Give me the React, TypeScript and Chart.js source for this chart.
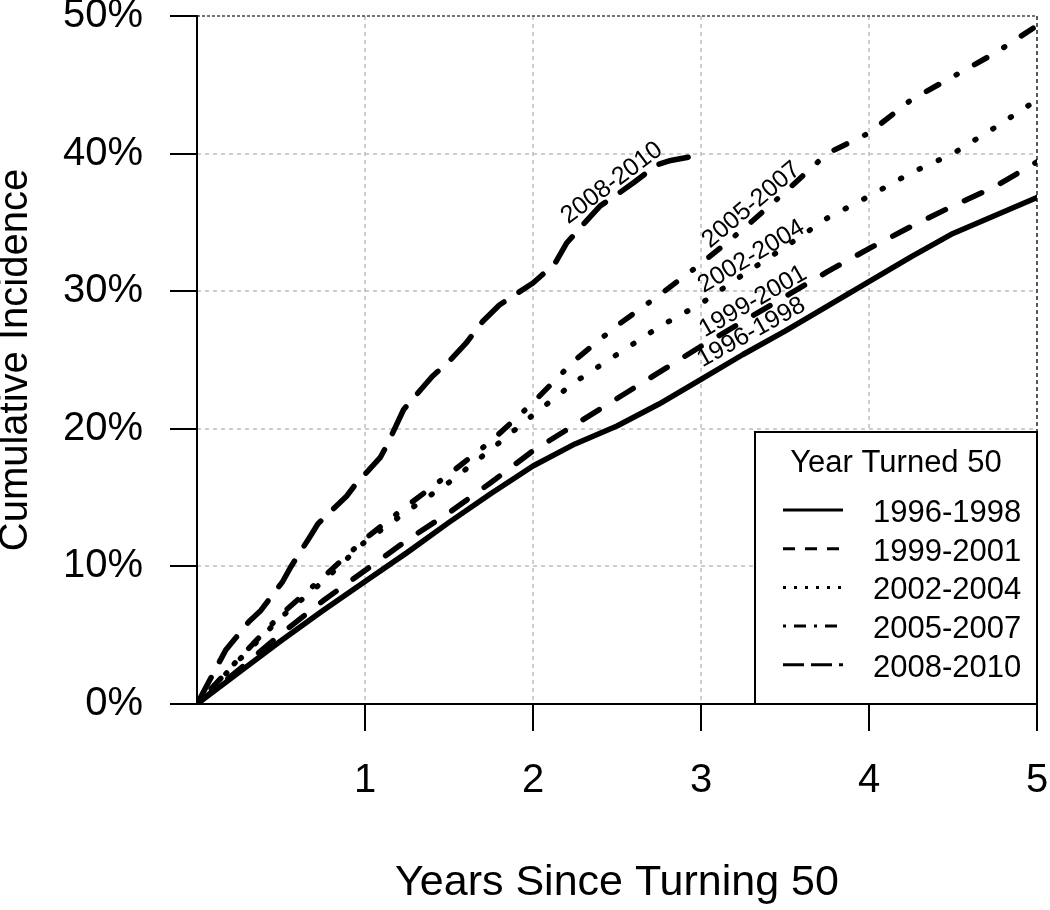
import { useEffect, useRef } from "react";
import { Chart, registerables } from "chart.js";

Chart.register(...registerables);

// ---------- data (cumulative incidence, %) ----------
const years = [0, 0.25, 0.5, 0.75, 1, 1.25, 1.5, 1.75, 2, 2.25, 2.5, 2.75, 3, 3.25, 3.5, 3.75, 4, 4.25, 4.5, 4.75, 5];
const inc1996 = [0, 2.3, 4.6, 6.8, 8.9, 11.0, 13.2, 15.3, 17.3, 18.9, 20.2, 21.8, 23.6, 25.4, 27.1, 28.9, 30.7, 32.5, 34.2, 35.5, 36.8];
const inc1999 = [0, 2.5, 5.1, 7.5, 9.7, 11.9, 13.9, 16.1, 18.4, 20.3, 22.2, 24.1, 26.0, 27.8, 29.6, 31.4, 33.1, 34.7, 36.2, 37.6, 39.4];
const inc2002 = [0, 3.2, 6.3, 8.9, 11.8, 14.0, 16.1, 18.5, 21.0, 23.4, 25.4, 27.4, 29.1, 31.2, 33.2, 35.3, 36.9, 38.6, 40.0, 41.9, 43.9];
const inc2005 = [0, 3.3, 6.5, 9.2, 12.0, 14.4, 16.7, 19.1, 21.9, 25.0, 27.5, 29.7, 32.0, 34.5, 37.2, 40.0, 41.5, 43.9, 45.6, 47.3, 49.3];
const years2008 = [0, 0.17, 0.31, 0.38, 0.51, 0.56, 0.68, 0.72, 0.89, 0.94, 1.09, 1.13, 1.23, 1.4, 1.5, 1.6, 1.7, 1.8, 1.9, 2.0, 2.13, 2.2, 2.31, 2.4, 2.52, 2.6, 2.74, 2.82, 2.95, 3.0];
const inc2008 = [0, 3.9, 6.0, 6.8, 8.9, 10.0, 12.3, 13.1, 15.1, 15.9, 17.9, 18.8, 21.4, 23.8, 24.9, 26.2, 27.8, 29.0, 29.8, 30.6, 32.0, 33.5, 35.0, 36.2, 37.2, 37.9, 39.2, 39.5, 39.8, 40.3];

const cohortNames = ["1996-1998", "1999-2001", "2002-2004", "2005-2007", "2008-2010"];
const yTicks = [0, 10, 20, 30, 40, 50];
const xTicks = [1, 2, 3, 4, 5];

// ---------- styles ----------
const FONT = "'Liberation Sans', Arial, Helvetica, sans-serif";
const plotDash: number[][] = [[], [19, 21], [1, 20], [1, 20, 14, 20], [30, 18]];
const legendDash: number[][] = [[], [12, 10], [3, 8], [3, 8, 12, 8], [21, 7]];

// in-plot labels (placed in data units)
const lineLabels = [
  { text: "2008-2010", x: 2.47, y: 37.86, angle: -37 },
  { text: "2005-2007", x: 3.3, y: 36.26, angle: -40 },
  { text: "2002-2004", x: 3.3, y: 32.52, angle: -31 },
  { text: "1999-2001", x: 3.31, y: 29.25, angle: -30 },
  { text: "1996-1998", x: 3.3, y: 27.0, angle: -29 },
];

const seriesX = [years, years, years, years, years2008];
const seriesY = [inc1996, inc1999, inc2002, inc2005, inc2008];

const gridPlugin = {
  id: "customGrid",
  beforeDatasetsDraw(chart: any) {
    const { ctx, chartArea: a, scales } = chart;
    const xs = scales.x, ys = scales.y;
    ctx.save();
    ctx.strokeStyle = "#bdbdbd";
    ctx.lineWidth = 1.5;
    ctx.setLineDash([4, 4]);
    [1, 2, 3, 4].forEach((v) => {
      const p = Math.round(xs.getPixelForValue(v));
      ctx.beginPath(); ctx.moveTo(p, a.top); ctx.lineTo(p, a.bottom); ctx.stroke();
    });
    [10, 20, 30, 40].forEach((v) => {
      const p = Math.round(ys.getPixelForValue(v));
      ctx.beginPath(); ctx.moveTo(a.left, p); ctx.lineTo(a.right, p); ctx.stroke();
    });
    // top and right frame
    ctx.strokeStyle = "#444";
    ctx.lineWidth = 1.5;
    ctx.setLineDash([3, 2]);
    ctx.beginPath(); ctx.moveTo(a.left, a.top); ctx.lineTo(a.right, a.top); ctx.stroke();
    ctx.strokeStyle = "#222";
    ctx.setLineDash([4, 3]);
    ctx.beginPath(); ctx.moveTo(a.right, a.top); ctx.lineTo(a.right, a.bottom); ctx.stroke();
    ctx.restore();
  },
  afterDatasetsDraw(chart: any) {
    const { ctx, chartArea: a, scales } = chart;
    const xs = scales.x, ys = scales.y;
    ctx.save();
    // labels on lines
    ctx.fillStyle = "#000";
    ctx.font = `25px ${FONT}`;
    ctx.textAlign = "center";
    ctx.textBaseline = "middle";
    lineLabels.forEach((l) => {
      ctx.save();
      ctx.translate(xs.getPixelForValue(l.x), ys.getPixelForValue(l.y));
      ctx.rotate((l.angle * Math.PI) / 180);
      ctx.fillText(l.text, 0, 0);
      ctx.restore();
    });
    // axes
    ctx.strokeStyle = "#000";
    ctx.lineWidth = 2;
    ctx.setLineDash([]);
    ctx.beginPath();
    ctx.moveTo(a.left, a.top - 1); ctx.lineTo(a.left, a.bottom);
    ctx.lineTo(a.right + 1, a.bottom);
    ctx.stroke();
    const tl = 27;
    yTicks.forEach((v) => {
      const p = Math.round(ys.getPixelForValue(v));
      ctx.beginPath(); ctx.moveTo(a.left - tl, p); ctx.lineTo(a.left, p); ctx.stroke();
    });
    xTicks.forEach((v) => {
      const p = Math.round(xs.getPixelForValue(v));
      ctx.beginPath(); ctx.moveTo(p, a.bottom); ctx.lineTo(p, a.bottom + tl); ctx.stroke();
    });
    ctx.restore();
  },
  afterDraw(chart: any) {
    const { ctx, chartArea: a } = chart;
    const w = 282, h = 272;
    const x0 = a.right - w, y0 = a.bottom - h;
    ctx.save();
    ctx.fillStyle = "#fff";
    ctx.fillRect(x0, y0, w, h);
    ctx.strokeStyle = "#000";
    ctx.lineWidth = 2;
    ctx.setLineDash([]);
    ctx.strokeRect(x0, y0, w, h);
    ctx.fillStyle = "#000";
    ctx.font = `31px ${FONT}`;
    ctx.textAlign = "center";
    ctx.textBaseline = "alphabetic";
    ctx.fillText("Year Turned 50", x0 + w / 2, y0 + 40);
    ctx.textAlign = "left";
    cohortNames.forEach((name, i) => {
      const base = y0 + 90 + i * 38.7;
      ctx.fillText(name, x0 + 118, base);
      ctx.beginPath();
      ctx.lineWidth = 3;
      ctx.setLineDash(legendDash[i]);
      ctx.moveTo(x0 + 28, base - 12);
      ctx.lineTo(x0 + 88, base - 12);
      ctx.stroke();
    });
    ctx.restore();
  },
};

export default function App() {
  const ref = useRef<HTMLCanvasElement>(null);
  useEffect(() => {
    if (!ref.current) return;
    const chart = new Chart(ref.current, {
      type: "line",
      data: {
        datasets: cohortNames.map((name, i) => ({
          label: name,
          data: seriesX[i].map((x, j) => ({ x, y: seriesY[i][j] })),
          borderColor: "#000",
          borderWidth: 5.5,
          borderDash: plotDash[i],
          borderCapStyle: "round" as const,
          borderJoinStyle: "round" as const,
          pointRadius: 0,
          fill: false,
          tension: 0,
        })),
      },
      options: {
        responsive: false,
        maintainAspectRatio: false,
        devicePixelRatio: 1,
        animation: false,
        layout: { padding: { left: 0, right: 13, top: 16, bottom: 0 } },
        plugins: { legend: { display: false }, tooltip: { enabled: false } },
        scales: {
          x: {
            type: "linear",
            min: 0,
            max: 5,
            position: "bottom",
            afterFit: (s: any) => { s.height = 206; s.paddingLeft = 0; s.paddingRight = 0; },
            grid: { display: false, drawTicks: false, tickLength: 0 },
            border: { display: false },
            ticks: {
              stepSize: 1,
              padding: 57,
              color: "#000",
              maxRotation: 0,
              autoSkip: false,
              font: { family: FONT, size: 40, lineHeight: 1 },
              callback: (v: any) => (v === 0 ? "" : String(v)),
            },
            title: {
              display: true,
              text: "Years Since Turning 50",
              color: "#000",
              font: { family: FONT, size: 43, lineHeight: 1 },
              padding: { top: 0, bottom: 5 },
            },
          },
          y: {
            type: "linear",
            min: 0,
            max: 50,
            position: "left",
            afterFit: (s: any) => { s.width = 197; s.paddingTop = 0; s.paddingBottom = 0; },
            grid: { display: false, drawTicks: false, tickLength: 0 },
            border: { display: false },
            ticks: {
              stepSize: 10,
              padding: 54,
              color: "#000",
              font: { family: FONT, size: 40, lineHeight: 1 },
              callback: (v: any) => v + "%",
            },
            title: {
              display: true,
              text: "Cumulative Incidence",
              color: "#000",
              font: { family: FONT, size: 40, lineHeight: 0.8 },
              padding: { top: 0, bottom: 0 },
            },
          },
        },
      },
      plugins: [gridPlugin],
    } as any);
    return () => chart.destroy();
  }, []);
  return (
    <div style={{ position: "absolute", left: 0, top: 0, width: 1050, height: 910, background: "#fff" }}>
      <canvas ref={ref} width={1050} height={910} style={{ display: "block", width: 1050, height: 910 }} />
    </div>
  );
}
